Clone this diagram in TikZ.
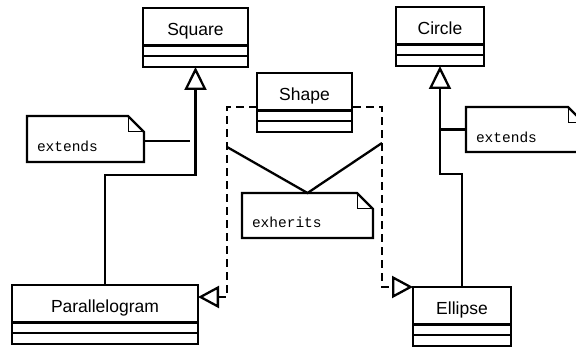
\documentclass[tikz,border=0pt]{standalone}
\usepackage{fontspec}
\setmainfont{Liberation Sans}
\setmonofont{Liberation Mono}
\usetikzlibrary{arrows.meta}
\newcommand\dogear[1]{%
  \draw[lw] (#1.north west) -- ([xshift=-16pt]#1.north east) -- ([yshift=-16pt]#1.north east) -- (#1.south east) -- (#1.south west) -- cycle;
  \draw[line width=1pt] ([xshift=-16pt]#1.north east) |- ([yshift=-16pt]#1.north east);}
\begin{document}
\begin{tikzpicture}[x=1pt,y=-1pt,
  lw/.style={line width=2.3pt},
  clsname/.style={draw, lw, fill=white, font=\fontsize{17.5}{20}\selectfont, inner xsep=0pt, inner ysep=0pt, text height=27.5pt, text depth=10pt, outer sep=0pt, anchor=north},
  clscomp/.style={draw, lw, fill=white, inner sep=0pt, minimum height=10.75pt, outer sep=0pt, anchor=north},
  note/.style={font=\fontsize{14.5}{16}\ttfamily, inner xsep=10pt, inner ysep=0pt, align=left, outer sep=0pt, anchor=north west, fill=white},
  gen/.style={lw, -{Triangle[open, length=23pt, width=22pt]}},
  real/.style={lw, dash pattern=on 8pt off 5pt, {Triangle[open, length=21pt, width=22pt]}-{Triangle[open, length=21pt, width=22pt]}}]
\useasboundingbox (0,0) rectangle (576,347);
\clip (0,0) rectangle (576,347);
% Parallelogram
\node[clsname, minimum width=186pt] (par) at (105,285) {Parallelogram};
\node[clscomp, minimum width=186pt] (par1) at (par.south) {};
\node[clscomp, minimum width=186pt] (par2) at (par1.south) {};
% Ellipse
\node[clsname, minimum width=98pt] (ell) at (462,287) {Ellipse};
\node[clscomp, minimum width=98pt] (ell1) at (ell.south) {};
\node[clscomp, minimum width=98pt] (ell2) at (ell1.south) {};
% realization (dashed) behind Shape
\coordinate (sL) at (227,107);
\coordinate (sR) at (382,107);
\draw[real] ([yshift=-12pt]par.north east) -| (sL) -- (sR) |- (ell.north west);
% Shape
\node[clsname, minimum width=95pt] (sh) at (304.5,73) {Shape};
\node[clscomp, minimum width=95pt] (sh1) at (sh.south) {};
\node[clscomp, minimum width=95pt] (sh2) at (sh1.south) {};
% Square
\node[clsname, minimum width=105pt] (sq) at (195.5,8) {Square};
\node[clscomp, minimum width=105pt] (sq1) at (sq.south) {};
\node[clscomp, minimum width=105pt] (sq2) at (sq1.south) {};
% Circle
\node[clsname, minimum width=88pt] (ci) at (440,7) {Circle};
\node[clscomp, minimum width=88pt] (ci1) at (ci.south) {};
\node[clscomp, minimum width=88pt] (ci2) at (ci1.south) {};
% generalizations
\draw[gen] (par.north) -- ++(0,-110) -| (sq2.south);
\draw[gen] (ell.north) -- ++(0,-113) -| (ci2.south);
% notes
\node[note, text width=97pt, text height=36pt, text depth=10pt] (n1) at (27,116) {extends};
\dogear{n1}
\node[note, text width=111pt, text height=35pt, text depth=10pt] (n2) at (242,193) {exherits};
\dogear{n2}
\node[note, text width=98pt, text height=36pt, text depth=9pt] (n3) at (466,107) {extends};
\dogear{n3}
% note connectors
\coordinate (c1) at (190,141);
\draw[lw] (n1.east |- c1) -- (c1);
\draw[lw] (n3.west) -- (n3.west -| ci2.south);
\coordinate (e1) at (227,147);
\coordinate (e2) at (382,143);
\draw[lw] (e1) -- (n2.north) -- (e2);
\end{tikzpicture}
\end{document}
